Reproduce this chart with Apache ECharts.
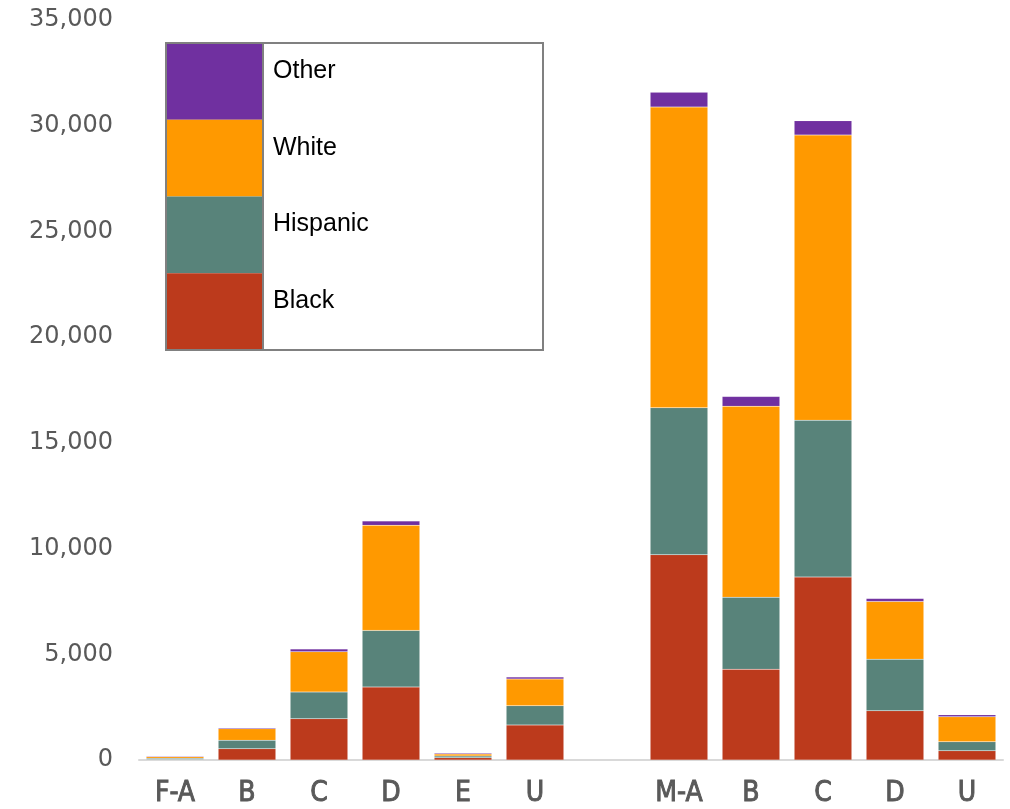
<!DOCTYPE html>
<html>
<head>
<meta charset="utf-8">
<script src="https://cdn.jsdelivr.net/npm/echarts@6/dist/echarts.min.js"></script>
<style>
html,body{margin:0;padding:0;background:#fff;}
#chart{width:1010px;height:809px;}
</style>
</head>
<body>
<div id="chart"></div>
<script>
var categories = ['F-A', 'B', 'C', 'D', 'E', 'U', '', 'M-A', 'B ', 'C ', 'D ', 'U '];
var black    = [20,  535, 1950, 3450, 110, 1655, null, 9710, 4295, 8650, 2330, 435];
var hispanic = [60,  395, 1265, 2680,  80,  915, null, 6950, 3405, 7425, 2440, 425];
var white    = [70,  550, 1905, 4970,  95, 1260, null, 14220, 9035, 13480, 2730, 1180];
var other    = [40,   50,  130,  205,  45,   95, null, 705,  460,  680,  140,  95];
var yTicks = [0, 5000, 10000, 15000, 20000, 25000, 30000, 35000];

var seriesNames = ['Black', 'Hispanic', 'White', 'Other'];
var seriesData = [black, hispanic, white, other];
var colors = ['#BC3A1C', '#58837A', '#FF9900', '#7030A0'];

var chart = echarts.init(document.getElementById('chart'), null, {renderer: 'canvas'});

var series = seriesNames.map(function (name, i) {
  return {
    name: name,
    type: 'bar',
    stack: 'total',
    barCategoryGap: '20%',
    data: seriesData[i],
    itemStyle: {color: colors[i], borderColor: 'rgba(255,255,255,0.2)', borderWidth: 0.5},
    emphasis: {disabled: true}
  };
});

// legend box (custom)
var lx = 166, ly = 43, lw = 377, lh = 307, sw = 97;
var rowH = lh / 4;
var legendOrder = [3, 2, 1, 0];
var graphics = [];
legendOrder.forEach(function (si, r) {
  graphics.push({
    type: 'rect',
    shape: {x: lx, y: ly + r * rowH, width: sw, height: rowH},
    style: {fill: colors[si]},
    silent: true
  });
  graphics.push({
    type: 'text',
    x: lx + sw + 10,
    y: ly + r * rowH + 28,
    style: {text: seriesNames[si], fill: '#000', font: '25px "Liberation Sans", Arial, sans-serif', textVerticalAlign: 'middle'},
    silent: true
  });
});
graphics.push({
  type: 'rect',
  shape: {x: lx, y: ly, width: lw, height: lh},
  style: {fill: 'none', stroke: '#808080', lineWidth: 2},
  silent: true
});
graphics.push({
  type: 'line',
  shape: {x1: lx + sw, y1: ly, x2: lx + sw, y2: ly + lh},
  style: {stroke: '#808080', lineWidth: 2},
  silent: true
});

chart.setOption({
  animation: false,
  backgroundColor: '#fff',
  grid: {left: 139, right: 7, top: 20, bottom: 49, containLabel: false},
  legend: {show: false, data: seriesNames},
  xAxis: {
    type: 'category',
    data: categories,
    axisTick: {show: false},
    axisLine: {lineStyle: {color: '#d9d9d9', width: 2}},
    axisLabel: {
      color: '#595959',
      fontSize: 28,
      fontWeight: 'normal',
      fontFamily: '"Liberation Sans Narrow", "DejaVu Sans Condensed", "Liberation Sans", Arial, sans-serif',
      textBorderColor: '#595959',
      textBorderWidth: 0.9,
      margin: 20,
      interval: 0,
      formatter: function (v) { return v.trim(); }
    }
  },
  yAxis: {
    type: 'value',
    min: 0,
    max: 35000,
    interval: 5000,
    axisLine: {show: false},
    axisTick: {show: false},
    splitLine: {show: false},
    axisLabel: {
      color: '#595959',
      fontSize: 24,
      fontFamily: '"DejaVu Sans", "Liberation Sans", Arial, sans-serif',
      margin: 26,
      formatter: function (v) { return yTicks.indexOf(v) >= 0 ? v.toLocaleString('en-US') : ''; }
    }
  },
  series: series,
  graphic: graphics
});
</script>
</body>
</html>
